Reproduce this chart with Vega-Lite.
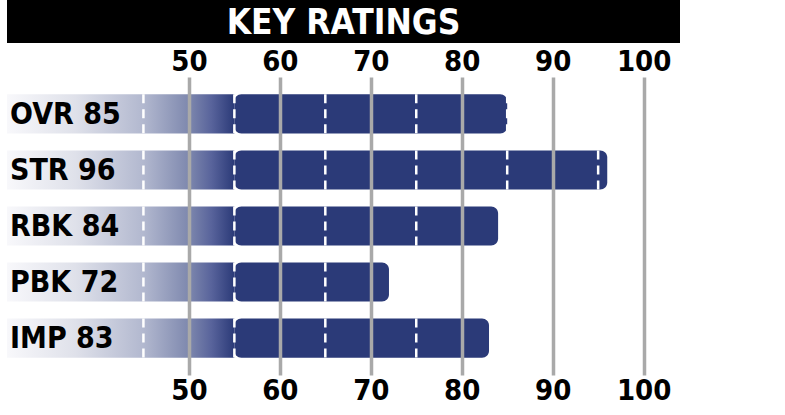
{
  "$schema": "https://vega.github.io/schema/vega-lite/v6.json",
  "padding": {"left": 7, "top": 0, "right": 0, "bottom": 0},
  "background": "white",
  "config": {"view": {"stroke": null}, "font": "DejaVu Sans Condensed"},
  "spacing": 34,
  "bounds": "flush",
  "datasets": {
    "ratings": [
      {"label": "OVR 85", "value": 85},
      {"label": "STR 96", "value": 96},
      {"label": "RBK 84", "value": 84},
      {"label": "PBK 72", "value": 72},
      {"label": "IMP 83", "value": 83}
    ],
    "dashes": [
      {"label": "OVR 85", "at": 45}, {"label": "OVR 85", "at": 55}, {"label": "OVR 85", "at": 65}, {"label": "OVR 85", "at": 75}, {"label": "OVR 85", "at": 85},
      {"label": "STR 96", "at": 45}, {"label": "STR 96", "at": 55}, {"label": "STR 96", "at": 65}, {"label": "STR 96", "at": 75}, {"label": "STR 96", "at": 85}, {"label": "STR 96", "at": 95},
      {"label": "RBK 84", "at": 45}, {"label": "RBK 84", "at": 55}, {"label": "RBK 84", "at": 65}, {"label": "RBK 84", "at": 75},
      {"label": "PBK 72", "at": 45}, {"label": "PBK 72", "at": 55}, {"label": "PBK 72", "at": 65},
      {"label": "IMP 83", "at": 45}, {"label": "IMP 83", "at": 55}, {"label": "IMP 83", "at": 65}, {"label": "IMP 83", "at": 75}
    ]
  },
  "vconcat": [
    {
      "width": 673,
      "height": 43,
      "view": {"fill": "black", "stroke": null},
      "data": {"values": [{"title": "KEY RATINGS"}]},
      "mark": {"type": "text", "color": "white", "fontSize": 35, "fontWeight": "bold", "baseline": "middle", "align": "center", "dy": 1},
      "encoding": {"text": {"field": "title"}}
    },
    {
      "width": 673,
      "height": 298,
      "data": {"name": "ratings"},
      "layer": [
        {
          "mark": {"type": "bar", "color": "#2b3a78", "cornerRadiusEnd": 7},
          "encoding": {
            "y": {
              "field": "label", "type": "nominal", "axis": null,
              "scale": {"domain": ["OVR 85", "STR 96", "RBK 84", "PBK 72", "IMP 83"], "paddingInner": 0.3, "paddingOuter": 0.31}
            },
            "x": {
              "field": "value", "type": "quantitative",
              "scale": {"domain": [30, 104], "nice": false, "zero": false},
              "axis": {
                "orient": "top", "values": [50, 60, 70, 80, 90, 100], "title": null,
                "grid": false, "ticks": false, "tickSize": 0, "domain": false,
                "labelFontSize": 29, "labelFontWeight": "bold", "labelColor": "black", "labelPadding": 1
              }
            },
            "x2": {"datum": 55}
          }
        },
        {
          "mark": {
            "type": "bar",
            "color": {
              "gradient": "linear", "x1": 0, "x2": 1, "y1": 0, "y2": 0,
              "stops": [
                {"offset": 0, "color": "#f8f8fb"},
                {"offset": 0.3, "color": "#dfe1ea"},
                {"offset": 0.6, "color": "#b2b8cf"},
                {"offset": 0.8, "color": "#7e88ae"},
                {"offset": 0.9, "color": "#58639b"},
                {"offset": 1, "color": "#2b3a78"}
              ]
            }
          },
          "encoding": {
            "y": {"field": "label", "type": "nominal", "axis": null},
            "x": {"datum": 30, "type": "quantitative", "axis": null},
            "x2": {"datum": 55}
          }
        },
        {
          "data": {"name": "dashes"},
          "mark": {"type": "rule", "color": "white", "strokeWidth": 2.5, "strokeDash": [9, 6]},
          "encoding": {
            "y": {"field": "label", "type": "nominal", "bandPosition": 0, "axis": null},
            "y2": {"field": "label", "type": "nominal", "bandPosition": 1},
            "x": {
              "field": "at", "type": "quantitative",
              "axis": {
                "orient": "bottom", "values": [50, 60, 70, 80, 90, 100], "title": null,
                "grid": true, "gridColor": "#a9a9a9", "gridWidth": 3.5, "gridOpacity": 1, "zindex": 1,
                "ticks": false, "tickSize": 0, "domain": false,
                "labelFontSize": 29, "labelFontWeight": "bold", "labelColor": "black", "labelPadding": 1
              }
            }
          }
        },
        {
          "mark": {"type": "text", "align": "left", "baseline": "middle", "dx": 3, "dy": 1, "fontSize": 30, "fontWeight": "bold", "color": "black"},
          "encoding": {
            "y": {"field": "label", "type": "nominal", "axis": null},
            "x": {"datum": 30, "type": "quantitative", "axis": null},
            "text": {"field": "label"}
          }
        }
      ]
    }
  ]
}
